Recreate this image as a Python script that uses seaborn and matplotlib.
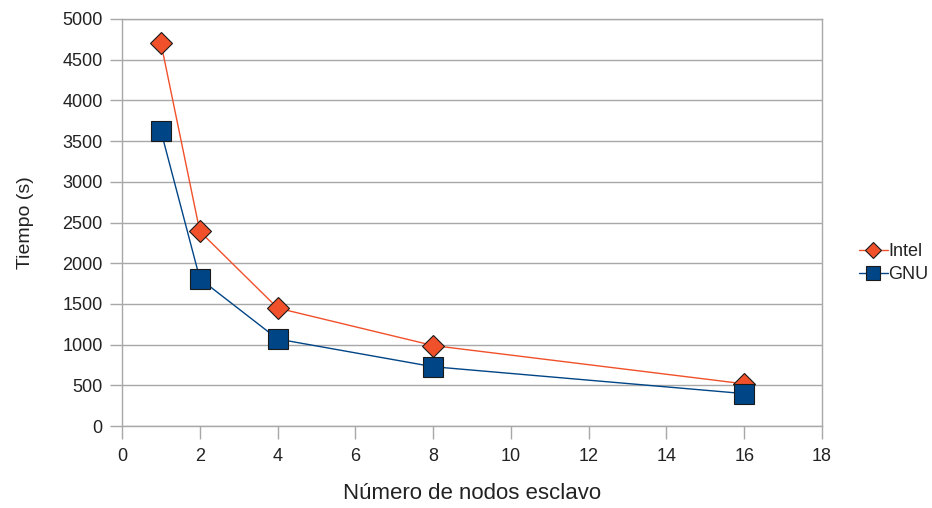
import matplotlib
matplotlib.use("Agg")
import matplotlib.pyplot as plt
import seaborn as sns
import pandas as pd

nodos = [1, 2, 4, 8, 16]
intel = [4700, 2390, 1450, 990, 520]
gnu = [3620, 1810, 1070, 730, 400]
series_names = ["Intel", "GNU"]

df = pd.DataFrame({
    "nodos": nodos * 2,
    "tiempo": intel + gnu,
    "serie": [series_names[0]] * len(nodos) + [series_names[1]] * len(nodos),
})

sns.set_theme(style="white")
plt.rcParams["font.family"] = ["Liberation Sans", "DejaVu Sans"]

fig = plt.figure(figsize=(9.32, 5.08), dpi=100)
ax = fig.add_axes([0.131, 0.161, 0.751, 0.802])

palette = {"Intel": "#f0502a", "GNU": "#004586"}
markers = {"Intel": "D", "GNU": "s"}
sizes_ms = {"Intel": 11, "GNU": 14.5}

for name in series_names:
    sub = df[df["serie"] == name]
    sns.lineplot(data=sub, x="nodos", y="tiempo", ax=ax, color=palette[name],
                 marker=markers[name], markersize=sizes_ms[name],
                 markeredgecolor="#1a1a1a", markeredgewidth=0.8,
                 linewidth=1.0, label=name, zorder=3)

ax.set_xlim(0, 18)
ax.set_ylim(0, 5000)
ax.set_xticks(range(0, 19, 2))
ax.set_yticks(range(0, 5001, 500))
ax.yaxis.grid(True, color="#a8a8a8", linewidth=1)
ax.xaxis.grid(False)
for s in ax.spines.values():
    s.set_color("#a8a8a8")
    s.set_linewidth(1)
ax.tick_params(axis="both", which="major", length=9, width=1, color="#a8a8a8",
               labelsize=13, labelcolor="#222222", direction="out", bottom=True, left=True)
ax.tick_params(axis="y", pad=5)
ax.tick_params(axis="x", pad=7)
ax.set_xlabel("Número de nodos esclavo", fontsize=16, color="#222222", labelpad=13)
ax.set_ylabel("Tiempo (s)", fontsize=14, color="#222222", labelpad=20)

leg = fig.legend(*ax.get_legend_handles_labels(), loc="center left",
                 bbox_to_anchor=(0.904, 0.482), frameon=False,
                 fontsize=13, handlelength=1.6, handletextpad=0.05, labelspacing=0.35,
                 markerscale=0.7)
ax.get_legend().remove()
for t in leg.get_texts():
    t.set_color("#222222")

fig.savefig("out.png", dpi=100)
